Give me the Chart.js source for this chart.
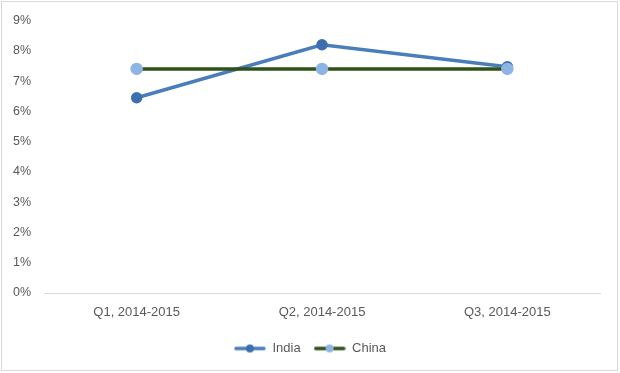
<!DOCTYPE html>
<html>
<head>
<meta charset="utf-8">
<script src="https://cdn.jsdelivr.net/npm/chart.js@4/dist/chart.umd.min.js"></script>
<style>
html,body{margin:0;padding:0;background:#fff;}
#wrap{width:620px;height:373px;position:relative;}
</style>
</head>
<body>
<div id="wrap"><canvas id="c" width="620" height="373"></canvas></div>
<script>
const categories = ["Q1, 2014-2015", "Q2, 2014-2015", "Q3, 2014-2015"];
const india = [6.45, 8.2, 7.47];
const china = [7.4, 7.4, 7.4];
const yTicks = [0, 1, 2, 3, 4, 5, 6, 7, 8, 9];

const indiaLine = "#4a7ebb";
const indiaPoint = "#3c6fad";
const chinaLine = "#2e5218";
const chinaPoint = "#8eb4e3";
const textColor = "#595959";
const fontFamily = "'Liberation Sans', Arial, sans-serif";

function legendIcon(lineCol, dotCol) {
  const cv = document.createElement("canvas");
  cv.width = 32; cv.height = 10;
  const g = cv.getContext("2d");
  g.strokeStyle = lineCol; g.lineWidth = 3.5; g.lineCap = "round";
  g.beginPath(); g.moveTo(2, 5); g.lineTo(30, 5); g.stroke();
  g.fillStyle = dotCol;
  g.beginPath(); g.arc(16, 5, 4, 0, Math.PI * 2); g.fill();
  return cv;
}

const borderPlugin = {
  id: "outerBorder",
  afterLayout(chart) {
    const l = chart.legend;
    if (l) { l.left += 10; l.right += 10; }
  },
  afterDraw(chart) {
    const g = chart.ctx;
    g.save();
    g.strokeStyle = "#d9d9d9";
    g.lineWidth = 1;
    g.strokeRect(1.5, 1.5, 616, 369);
    g.restore();
  }
};

new Chart(document.getElementById("c"), {
  type: "line",
  data: {
    labels: categories,
    datasets: [
      {
        label: "India",
        data: india,
        borderColor: indiaLine,
        backgroundColor: indiaPoint,
        pointBackgroundColor: indiaPoint,
        pointBorderColor: indiaPoint,
        borderWidth: 3.5,
        pointRadius: 4,
        pointHoverRadius: 4,
        tension: 0,
        order: 2
      },
      {
        label: "China",
        data: china,
        borderColor: chinaLine,
        backgroundColor: chinaPoint,
        pointBackgroundColor: chinaPoint,
        pointBorderColor: chinaPoint,
        borderWidth: 3.5,
        pointRadius: 4.5,
        pointHoverRadius: 4.5,
        tension: 0,
        order: 1
      }
    ]
  },
  options: {
    responsive: false,
    animation: false,
    devicePixelRatio: 1,
    layout: { padding: { top: 18, right: 20, bottom: 8, left: 0 } },
    scales: {
      x: {
        offset: true,
        grid: { display: false, drawTicks: false },
        border: { display: true, color: "#d9d9d9", width: 1 },
        ticks: { color: textColor, font: { family: fontFamily, size: 13 }, padding: 12, maxRotation: 0 },
        afterFit(s) { s.height = 36; }
      },
      y: {
        min: 0,
        max: 9,
        afterBuildTicks(s) { s.ticks = yTicks.map(v => ({ value: v })); },
        grid: { display: false, drawTicks: false },
        border: { display: false },
        ticks: {
          color: textColor,
          font: { family: fontFamily, size: 12.5 },
          padding: 13,
          callback: v => v + "%"
        },
        afterFit(s) { s.width = 44; }
      }
    },
    plugins: {
      legend: {
        position: "bottom",
        labels: {
          color: textColor,
          font: { family: fontFamily, size: 13 },
          usePointStyle: true,
          pointStyleWidth: 32,
          boxHeight: 10,
          padding: 13,
          generateLabels(chart) {
            return [
              { text: "India", pointStyle: legendIcon(indiaLine, indiaPoint), fillStyle: indiaPoint, strokeStyle: indiaLine, lineWidth: 0, datasetIndex: 0, fontColor: textColor },
              { text: "China", pointStyle: legendIcon(chinaLine, chinaPoint), fillStyle: chinaPoint, strokeStyle: chinaLine, lineWidth: 0, datasetIndex: 1, fontColor: textColor }
            ];
          }
        }
      },
      tooltip: { enabled: false }
    }
  },
  plugins: [borderPlugin]
});
</script>
</body>
</html>
